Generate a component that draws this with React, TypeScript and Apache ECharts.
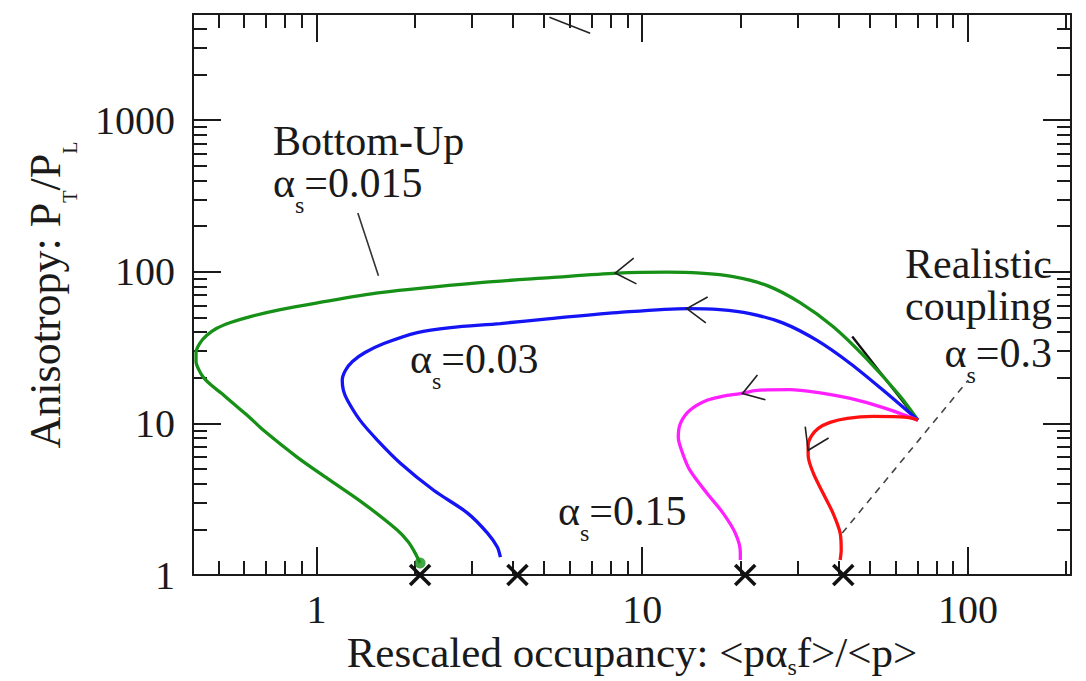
import { useEffect, useRef } from "react";
import * as echarts from "echarts";

// Trajectories in the (occupancy, anisotropy) plane, one per coupling value.
// All four start from the common point near (70, 10.5) and end close to equilibrium.
const bottomUpOccupancy = [70.2, 61.9, 48.7, 38.5, 30.5, 24.2, 19.0, 15.1, 11.9, 8.38, 5.22, 3.18, 1.57, 0.979, 0.775, 0.627, 0.545, 0.493, 0.46, 0.438, 0.427, 0.427, 0.435, 0.45, 0.476, 0.511, 0.556, 0.619, 0.688, 0.874, 1.1, 1.39, 1.77, 1.915, 2.01, 2.08];
const bottomUpAnisotropy = [10.5, 15.1, 26.8, 43.5, 62.5, 80.9, 92.7, 97.7, 99.2, 97.7, 91.3, 84.7, 72.7, 61.6, 56.2, 50.6, 46.2, 42.2, 37.9, 33.6, 29.3, 25.6, 22.7, 20.1, 17.8, 15.8, 13.5, 11.1, 8.99, 5.97, 4.22, 2.98, 1.98, 1.65, 1.395, 1.2];

const alpha003Occupancy = [70.2, 54.9, 43.5, 34.4, 27.1, 21.4, 17.3, 13.8, 8.38, 5.22, 3.67, 2.58, 2.04, 1.61, 1.41, 1.29, 1.227, 1.2, 1.21, 1.245, 1.36, 1.54, 1.81, 2.29, 2.91, 3.35, 3.59, 3.67];
const alpha003Anisotropy = [10.5, 16.5, 24.8, 35.2, 45.8, 52.9, 56.2, 57.1, 53.7, 49.1, 45.5, 42.8, 39.7, 33.6, 29.3, 25.6, 22.3, 19.2, 16.5, 14.2, 10.5, 7.73, 5.46, 3.62, 2.56, 1.89, 1.53, 1.31];

const alpha015Occupancy = [70.2, 54.9, 43.5, 34.4, 28.4, 22.5, 20.0, 17.7, 15.8, 14.0, 13.1, 12.9, 13.3, 14.0, 15.8, 17.7, 19.3, 20.0, 20.0];
const alpha015Anisotropy = [10.5, 12.7, 14.6, 16.0, 16.7, 16.5, 15.7, 15.1, 14.2, 12.2, 10.0, 8.09, 6.35, 4.91, 3.46, 2.56, 1.89, 1.42, 1.255];

const alpha03Occupancy = [70.2, 65.0, 51.1, 42.6, 37.7, 34.7, 33.0, 32.3, 32.3, 33.5, 35.9, 38.5, 40.5, 40.8, 40.5];
const alpha03Anisotropy = [10.5, 10.95, 11.1, 10.8, 10.15, 9.27, 8.21, 7.17, 6.16, 4.69, 3.46, 2.56, 1.89, 1.46, 1.255];

// Equilibrium values marked with crosses on the bottom axis
const equilibriumOccupancy = [2.08, 4.14, 20.7, 41.4];
const equilibriumAnisotropy = [1, 1, 1, 1];

// Direction arrows on each trajectory: tip position and turn (degrees)
const arrowOccupancy = [8.26, 13.7, 20.3, 32.3];
const arrowAnisotropy = [97.9, 57.1, 15.7, 6.64];
const arrowTurn = [6, -4, 18, 64];

// Guide strokes: label leader, the dashed α=0.3 pointer and the initial-direction stroke
const leaderOccupancy = [1.34, 1.55];
const leaderAnisotropy = [244, 94];
const dashedOccupancy = [41.1, 100];
const dashedAnisotropy = [1.89, 19.2];
const startStrokeOccupancy = [44.1, 69.2];
const startStrokeAnisotropy = [37.4, 10.8];
const topStrokeOccupancy = [5.19, 6.92];
const topStrokeAnisotropy = [4760, 3734];

// Axis ranges and ticks
const xRange = [0.418, 207];
const yRange = [1, 5000];
const xMajorTicks = [1, 10, 100];
const xMinorTicks = [0.5, 0.6, 0.7, 0.8, 0.9, 2, 3, 4, 5, 6, 7, 8, 9, 20, 30, 40, 50, 60, 70, 80, 90, 200];
const yMajorTicks = [1, 10, 100, 1000];
const yMinorTicks = [2, 3, 4, 5, 6, 7, 8, 9, 20, 30, 40, 50, 60, 70, 80, 90, 200, 300, 400, 500, 600, 700, 800, 900, 2000, 3000, 4000];

const INK = "#1a1a1a";
const SERIF = "'Liberation Serif', 'Times New Roman', Times, serif";
const GREEN = "#179017";
const BLUE = "#1414f5";
const MAGENTA = "#ff1fff";
const RED = "#ff1010";

const lg = (v: number) => Math.log10(v);
const toPoints = (xs: number[], ys: number[]) => xs.map((x, i) => [lg(x), lg(ys[i])]);

function frameAxis(
  position: string,
  range: number[],
  ticks: number[],
  tickLength: number,
  withLine: boolean,
  labelMargin?: number
) {
  return {
    type: "value",
    position,
    min: lg(range[0]),
    max: lg(range[1]),
    splitLine: { show: false },
    axisPointer: { show: false },
    axisLine: { show: withLine, onZero: false, lineStyle: { color: INK, width: 2 } },
    axisTick: {
      show: true,
      inside: true,
      length: tickLength,
      customValues: ticks.map(lg),
      lineStyle: { color: INK, width: 2 },
    },
    axisLabel:
      labelMargin === undefined
        ? { show: false }
        : {
            show: true,
            customValues: ticks.map(lg),
            margin: labelMargin,
            fontSize: 40,
            fontFamily: SERIF,
            color: INK,
            formatter: (v: number) => String(Math.round(Math.pow(10, v))),
          },
  };
}

function curve(name: string, xs: number[], ys: number[], color: string, z: number) {
  return {
    type: "line",
    name,
    data: toPoints(xs, ys),
    symbol: "none",
    showSymbol: false,
    smooth: 0.3,
    lineStyle: { color, width: 3.3 },
    z,
    silent: true,
  };
}

function guide(xs: number[], ys: number[], color: string, width: number, dash?: number[]) {
  return {
    type: "line",
    data: toPoints(xs, ys),
    symbol: "none",
    showSymbol: false,
    lineStyle: { color, width, type: dash ?? "solid" },
    z: 2,
    silent: true,
  };
}

const main = (size: number) => ({ fontSize: size, fontFamily: SERIF, lineHeight: 42, fill: INK });
const sub = (size: number, drop: number) => ({
  fontSize: size,
  fontFamily: SERIF,
  lineHeight: 20,
  padding: [drop, 0, 0, 0],
  fill: INK,
});
const annotationRich = { m: main(42), s: sub(24, 44) };

function note(text: string, x: number, y: number, align: string, verticalAlign: string) {
  return {
    type: "text",
    x,
    y,
    silent: true,
    style: { text, rich: annotationRich, fontSize: 42, fontFamily: SERIF, fill: INK, align, verticalAlign },
  };
}

function buildOption() {
  return {
    animation: false,
    backgroundColor: "#ffffff",
    textStyle: { fontFamily: SERIF },
    grid: { left: 193, top: 14, right: 15, bottom: 106, outerBoundsMode: "none" },
    xAxis: [
      frameAxis("bottom", xRange, xMajorTicks, 28, true, 14),
      frameAxis("bottom", xRange, xMinorTicks, 14, false),
      frameAxis("top", xRange, xMajorTicks, 28, true),
      frameAxis("top", xRange, xMinorTicks, 14, false),
    ],
    yAxis: [
      frameAxis("left", yRange, yMajorTicks, 28, true, 18),
      frameAxis("left", yRange, yMinorTicks, 14, false),
      frameAxis("right", yRange, yMajorTicks, 28, true),
      frameAxis("right", yRange, yMinorTicks, 14, false),
    ],
    series: [
      guide(startStrokeOccupancy, startStrokeAnisotropy, "#111111", 2.4),
      curve("αs=0.015", bottomUpOccupancy, bottomUpAnisotropy, GREEN, 3),
      curve("αs=0.03", alpha003Occupancy, alpha003Anisotropy, BLUE, 3),
      curve("αs=0.15", alpha015Occupancy, alpha015Anisotropy, MAGENTA, 3),
      curve("αs=0.3", alpha03Occupancy, alpha03Anisotropy, RED, 3),
      guide(leaderOccupancy, leaderAnisotropy, "#333333", 1.6),
      guide(dashedOccupancy, dashedAnisotropy, "#444444", 1.6, [7, 6]),
      guide(topStrokeOccupancy, topStrokeAnisotropy, "#222222", 1.4),
      {
        type: "scatter",
        data: toPoints(bottomUpOccupancy, bottomUpAnisotropy).slice(-1),
        symbol: "circle",
        symbolSize: 11,
        itemStyle: { color: GREEN },
        clip: false,
        silent: true,
        z: 4,
      },
      {
        type: "custom",
        coordinateSystem: "cartesian2d",
        encode: { x: 0, y: 1 },
        data: toPoints(equilibriumOccupancy, equilibriumAnisotropy),
        clip: false,
        silent: true,
        z: 6,
        renderItem: (_params: any, api: any) => {
          const p = api.coord([api.value(0), api.value(1)]);
          const r = 10;
          const style = { stroke: "#111111", lineWidth: 3.6, fill: "none" };
          return {
            type: "group",
            children: [
              { type: "line", shape: { x1: p[0] - r, y1: p[1] - r, x2: p[0] + r, y2: p[1] + r }, style },
              { type: "line", shape: { x1: p[0] - r, y1: p[1] + r, x2: p[0] + r, y2: p[1] - r }, style },
            ],
          };
        },
      },
      {
        type: "custom",
        coordinateSystem: "cartesian2d",
        encode: { x: 0, y: 1 },
        dimensions: ["x", "y", "turn"],
        data: arrowOccupancy.map((x, i) => [lg(x), lg(arrowAnisotropy[i]), arrowTurn[i]]),
        silent: true,
        z: 6,
        renderItem: (_params: any, api: any) => {
          const p = api.coord([api.value(0), api.value(1)]);
          const t = (api.value(2) * Math.PI) / 180;
          const c = Math.cos(t);
          const s = Math.sin(t);
          const arm = (vx: number, vy: number) => [p[0] + vx * c + vy * s, p[1] - vx * s + vy * c];
          return {
            type: "polyline",
            shape: { points: [arm(20, -13), p, arm(20, 13)] },
            style: { stroke: "#222222", lineWidth: 1.6, fill: "none" },
          };
        },
      },
    ],
    graphic: [
      note("{m|Bottom-Up}\n{m|α}{s|s}{m|=0.015}", 273, 120, "left", "top"),
      note("{m|α}{s|s}{m|=0.03}", 410, 359, "left", "middle"),
      note("{m|α}{s|s}{m|=0.15}", 558, 511, "left", "middle"),
      note("{m|Realistic}\n{m|coupling}", 1052, 243, "right", "top"),
      note("{m|α}{s|s}{m|=0.3}", 1052, 353, "right", "middle"),
      {
        type: "text",
        x: 632,
        y: 652,
        silent: true,
        style: {
          text: "{m|Rescaled occupancy: <pα}{s|s}{m|f>/<p>}",
          rich: { m: main(43), s: sub(24, 30) },
          fontSize: 43,
          fontFamily: SERIF,
          fill: INK,
          align: "center",
          verticalAlign: "middle",
        },
      },
      {
        type: "text",
        x: 45,
        y: 295,
        rotation: Math.PI / 2,
        silent: true,
        style: {
          text: "{m|Anisotropy: P}{s|T}{m|/P}{s|L}",
          rich: { m: main(44), s: sub(20, 50) },
          fontSize: 44,
          fontFamily: SERIF,
          fill: INK,
          align: "center",
          verticalAlign: "middle",
        },
      },
    ],
  };
}

export default function App() {
  const ref = useRef<HTMLDivElement>(null);
  useEffect(() => {
    if (!ref.current) return;
    const chart = echarts.init(ref.current, undefined, { renderer: "svg" });
    chart.setOption(buildOption() as any);
    return () => chart.dispose();
  }, []);
  return (
    <div
      ref={ref}
      style={{ position: "absolute", left: 0, top: 0, width: 1086, height: 681, background: "#ffffff" }}
    />
  );
}
